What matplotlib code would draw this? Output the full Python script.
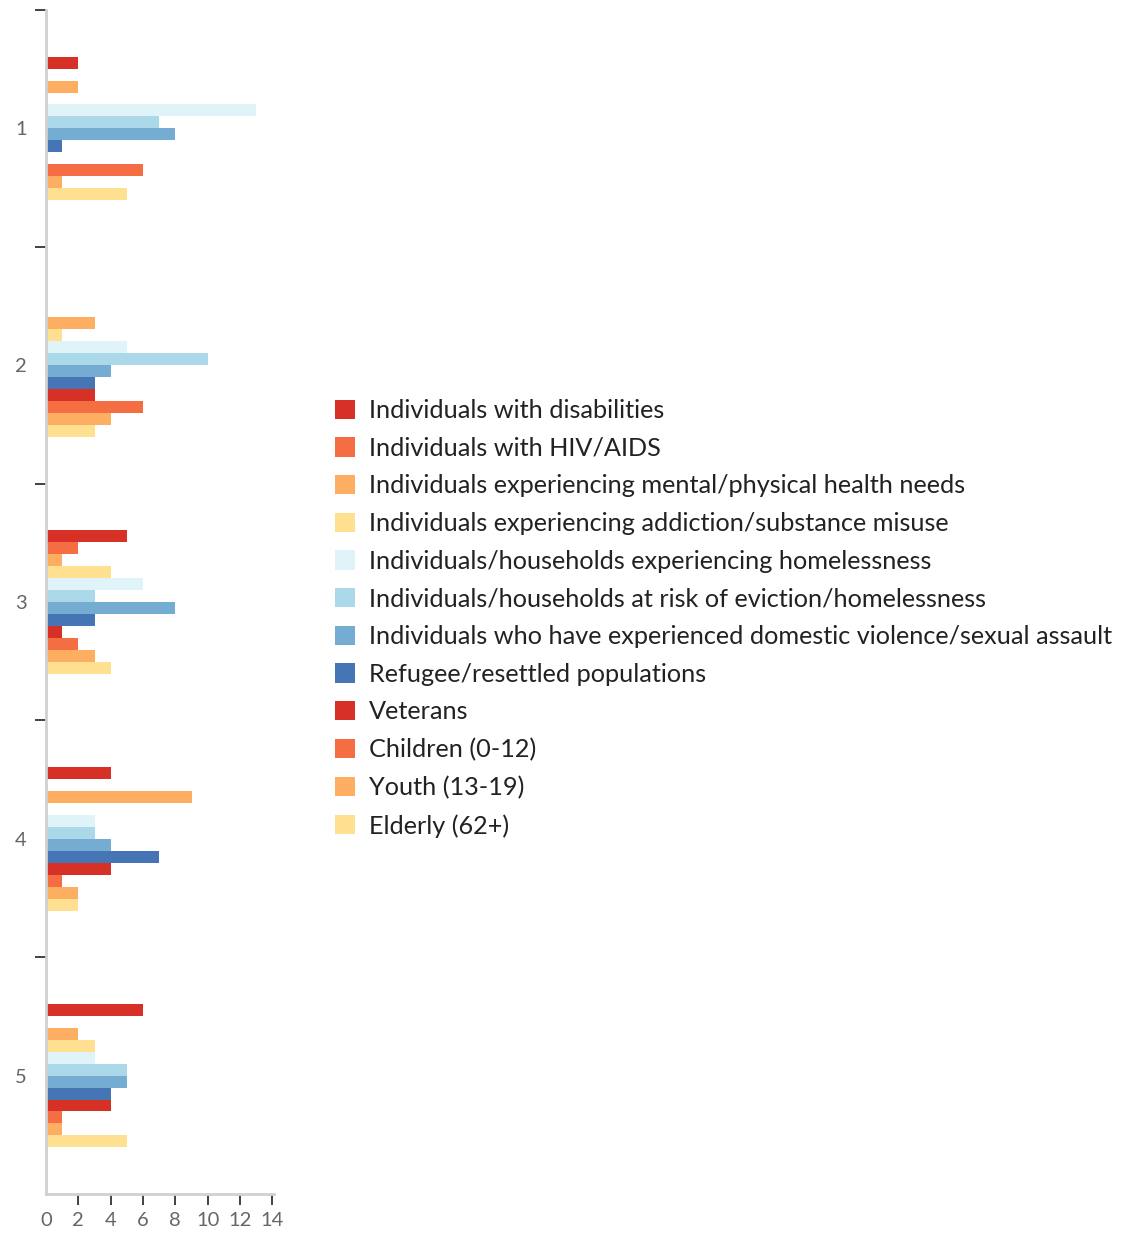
import matplotlib
matplotlib.use("Agg")
import matplotlib.pyplot as plt
import numpy as np

plt.rcParams['font.family'] = ['Lato', 'DejaVu Sans']

categories = ["1", "2", "3", "4", "5"]
series_names = [
    "Individuals with disabilities",
    "Individuals with HIV/AIDS",
    "Individuals experiencing mental/physical health needs",
    "Individuals experiencing addiction/substance misuse",
    "Individuals/households experiencing homelessness",
    "Individuals/households at risk of eviction/homelessness",
    "Individuals who have experienced domestic violence/sexual assault",
    "Refugee/resettled populations",
    "Veterans",
    "Children (0-12)",
    "Youth (13-19)",
    "Elderly (62+)",
]
disabilities = [2, 0, 5, 4, 6]
hiv_aids = [0, 0, 2, 0, 0]
mental_health = [2, 3, 1, 9, 2]
addiction = [0, 1, 4, 0, 3]
homelessness = [13, 5, 6, 3, 3]
eviction_risk = [7, 10, 3, 3, 5]
domestic_violence = [8, 4, 8, 4, 5]
refugees = [1, 3, 3, 7, 4]
veterans = [0, 3, 1, 4, 4]
children = [6, 6, 2, 1, 1]
youth = [1, 4, 3, 2, 1]
elderly = [5, 3, 4, 2, 5]
series_values = [disabilities, hiv_aids, mental_health, addiction, homelessness,
                 eviction_risk, domestic_violence, refugees, veterans, children,
                 youth, elderly]
colors = ["#d73027", "#f46d43", "#fdae61", "#fee090", "#e0f3f8", "#abd9e9",
          "#74add1", "#4575b4", "#d73027", "#f46d43", "#fdae61", "#fee090"]
xticks = [0, 2, 4, 6, 8, 10, 12, 14]

W, H = 1126, 1234
fig = plt.figure(figsize=(W / 100, H / 100), dpi=100)
ax = fig.add_axes([46 / W, 1 - 1194 / H, (274 - 46) / W, (1194 - 10) / H])

n = len(series_names)
group = 0.606
h = group / n
pos = np.arange(1, len(categories) + 1)
handles = []
for j, (name, vals, c) in enumerate(zip(series_names, series_values, colors)):
    y = pos + (j - (n - 1) / 2) * h
    b = ax.barh(y, vals, height=h, color=c, label=name, edgecolor='none')
    handles.append(b)

ax.set_ylim(5.5, 0.5)
ax.set_xlim(0, 14.1)
ax.set_yticks(pos)
ax.set_yticklabels(categories)
ax.set_yticks(np.arange(0.5, 5.51, 1.0)[:-1], minor=True)
ax.tick_params(axis='y', which='major', length=0, pad=14, labelsize=14.5, labelcolor='#666666')
ax.tick_params(axis='y', which='minor', length=8, width=1.2, color='#222222')
ax.set_xticks(xticks)
ax.set_xticklabels([str(t) for t in xticks])
ax.tick_params(axis='x', which='major', length=8, width=1.2, color='#222222',
               labelsize=14.5, labelcolor='#666666', pad=5)
ax.xaxis.get_major_ticks()[0].tick1line.set_visible(False)

for s in ['top', 'right']:
    ax.spines[s].set_visible(False)
for s in ['left', 'bottom']:
    ax.spines[s].set_color('#d0d0d0')
    ax.spines[s].set_linewidth(2)

leg = fig.legend(handles=handles, labels=series_names, loc='upper left',
                 bbox_to_anchor=(325 / W, 1 - 389 / H), frameon=False,
                 fontsize=18.2, handlelength=0.8, handleheight=0.8,
                 handletextpad=0.55, labelspacing=0.58, borderaxespad=0)
for t in leg.get_texts():
    t.set_color('#222222')

fig.savefig("out.png", dpi=100)
